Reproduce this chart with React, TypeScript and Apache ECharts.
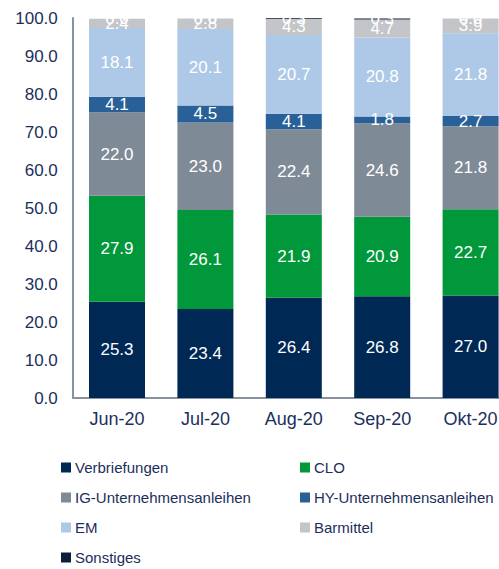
import React, { useEffect, useRef } from "react";
import * as echarts from "echarts";

const categories = ["Jun-20", "Jul-20", "Aug-20", "Sep-20", "Okt-20"];
const verbriefungen = [25.3, 23.4, 26.4, 26.8, 27.0];
const clo = [27.9, 26.1, 21.9, 20.9, 22.7];
const igUnternehmen = [22.0, 23.0, 22.4, 24.6, 21.8];
const hyUnternehmen = [4.1, 4.5, 4.1, 1.8, 2.7];
const em = [18.1, 20.1, 20.7, 20.8, 21.8];
const barmittel = [2.4, 2.8, 4.3, 4.7, 3.9];
const sonstiges = [0.0, 0.0, 0.3, 0.3, 0.0];
const yTicks = [0, 10, 20, 30, 40, 50, 60, 70, 80, 90, 100];

const seriesDefs = [
  { name: "Verbriefungen", data: verbriefungen, color: "#002855" },
  { name: "CLO", data: clo, color: "#00983a" },
  { name: "IG-Unternehmensanleihen", data: igUnternehmen, color: "#7f8a97" },
  { name: "HY-Unternehmensanleihen", data: hyUnternehmen, color: "#286097" },
  { name: "EM", data: em, color: "#adc9e7" },
  { name: "Barmittel", data: barmittel, color: "#c3c5c8" },
  { name: "Sonstiges", data: sonstiges, color: "#0c1e3c" },
];

const FONT = "'Liberation Sans', Arial, sans-serif";
const NAVY = "#1b2f5c";

export default function App() {
  const ref = useRef<HTMLDivElement>(null);
  useEffect(() => {
    if (!ref.current) return;
    const chart = echarts.init(ref.current, null, { renderer: "svg" });
    const legendCommon = {
      orient: "vertical" as const,
      top: 460,
      padding: 0,
      itemWidth: 10,
      itemHeight: 10,
      itemGap: 15,
      icon: "rect",
      textStyle: { fontFamily: FONT, fontSize: 15, color: NAVY, lineHeight: 15, padding: [0, 0, 0, -1] },
      selectedMode: false,
    };
    chart.setOption({
      animation: false,
      textStyle: { fontFamily: FONT },
      grid: { left: 72.8, top: 18, height: 380, width: 442 },
      legend: [
        { ...legendCommon, left: 61, data: ["Verbriefungen", "IG-Unternehmensanleihen", "EM", "Sonstiges"] },
        { ...legendCommon, left: 300, data: ["CLO", "HY-Unternehmensanleihen", "Barmittel"] },
      ],
      xAxis: {
        type: "category",
        data: categories,
        axisLine: { show: true, lineStyle: { color: "#8893a0", width: 2 } },
        axisTick: { show: false },
        axisLabel: { color: NAVY, fontSize: 18, margin: 12, fontFamily: FONT },
      },
      yAxis: {
        type: "value",
        min: yTicks[0],
        max: yTicks[yTicks.length - 1],
        interval: 10,
        axisLine: { show: true, lineStyle: { color: "#8893a0", width: 2 } },
        axisTick: { show: false },
        splitLine: { show: false },
        axisLabel: {
          color: NAVY,
          fontSize: 17,
          margin: 15,
          fontFamily: FONT,
          formatter: (v: number) => v.toFixed(1),
        },
      },
      series: seriesDefs.map((s) => ({
        name: s.name,
        type: "bar",
        stack: "total",
        barWidth: 56,
        data: s.data,
        itemStyle: { color: s.color },
        label: {
          show: true,
          position: "inside",
          color: "#ffffff",
          fontSize: 17,
          fontFamily: FONT,
          formatter: (p: any) => Number(p.value).toFixed(1),
        },
        labelLayout: { hideOverlap: false },
      })),
    });
    return () => chart.dispose();
  }, []);
  return (
    <div
      ref={ref}
      style={{ position: "fixed", left: 0, top: 0, width: 520, height: 569, background: "#fff" }}
    />
  );
}
